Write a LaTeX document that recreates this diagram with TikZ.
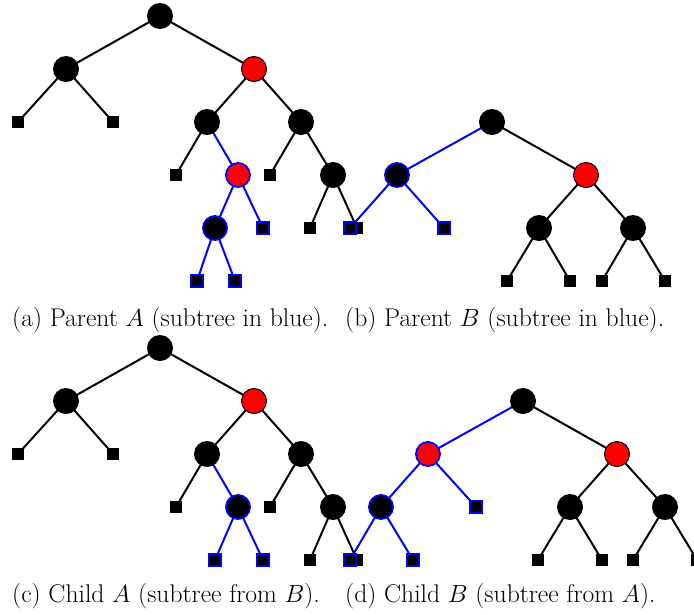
\documentclass[tikz,border=0pt]{standalone}
\pgfdeclarelayer{bg}
\pgfsetlayers{bg,main}
\begin{document}
\begin{tikzpicture}[x=1pt,y=-1pt,
  bn/.style={circle,fill=black,minimum size=26pt,inner sep=0pt},
  rn/.style={circle,fill=red,draw=black,line width=1pt,minimum size=25pt,inner sep=0pt},
  bb/.style={draw=blue,line width=1.8pt,minimum size=24pt},
  lf/.style={rectangle,fill=black,minimum size=12.5pt,inner sep=0pt},
  blf/.style={rectangle,fill=black,draw=blue,line width=1.8pt,minimum size=11.5pt,inner sep=0pt},
  ed/.style={line width=2pt,black},
  bed/.style={line width=2pt,blue},
  captext/.style={anchor=base west,inner sep=0pt,font=\fontsize{25.6}{30}\selectfont}]
\useasboundingbox (0,0) rectangle (694,614);
% Tree A
\node[bn] (a0) at (160,16) {};
\node[bn] (a1) at (66,69) {};
\node[rn] (a2) at (254,69) {};
\node[lf] (a3) at (18,122) {};
\node[lf] (a4) at (113,122) {};
\node[bn] (a5) at (207,122) {};
\node[bn] (a6) at (301,122) {};
\node[lf] (a7) at (176,175) {};
\node[rn,bb] (a8) at (238,175) {};
\node[bn,bb] (a9) at (215,228) {};
\node[blf] (a10) at (263,228) {};
\node[blf] (a11) at (197,281) {};
\node[blf] (a12) at (235,281) {};
\node[lf] (a13) at (270,175) {};
\node[bn] (a14) at (333,175) {};
\node[lf] (a15) at (310,228) {};
\node[lf] (a16) at (357,228) {};
% Tree B
\node[bn] (b0) at (492,122) {};
\node[bn,bb] (b1) at (397,175) {};
\node[rn] (b2) at (586,175) {};
\node[blf] (b3) at (350,228) {};
\node[blf] (b4) at (444,228) {};
\node[bn] (b5) at (539,228) {};
\node[bn] (b6) at (633,228) {};
\node[lf] (b7) at (507,281) {};
\node[lf] (b8) at (570,281) {};
\node[lf] (b9) at (602,281) {};
\node[lf] (b10) at (665,281) {};
% Tree C
\node[bn] (c0) at (160,348) {};
\node[bn] (c1) at (66,401) {};
\node[rn] (c2) at (254,401) {};
\node[lf] (c3) at (18,454) {};
\node[lf] (c4) at (113,454) {};
\node[bn] (c5) at (207,454) {};
\node[bn] (c6) at (301,454) {};
\node[lf] (c7) at (176,507) {};
\node[bn,bb] (c8) at (238,507) {};
\node[blf] (c9) at (215,560) {};
\node[blf] (c10) at (263,560) {};
\node[lf] (c13) at (270,507) {};
\node[bn] (c14) at (333,507) {};
\node[lf] (c15) at (310,560) {};
\node[lf] (c16) at (357,560) {};
% Tree D
\node[bn] (d0) at (523,401) {};
\node[rn,bb] (d1) at (428,454) {};
\node[rn] (d2) at (617,454) {};
\node[bn,bb] (d3) at (381,507) {};
\node[blf] (d4) at (476,507) {};
\node[blf] (d5) at (350,560) {};
\node[blf] (d6) at (413,560) {};
\node[bn] (d7) at (570,507) {};
\node[bn] (d8) at (665,507) {};
\node[lf] (d9) at (538,560) {};
\node[lf] (d10) at (602,560) {};
\node[lf] (d11) at (633,560) {};
\node[lf] (d12) at (697,560) {};
\begin{pgfonlayer}{bg}
\foreach \p/\q in {a0/a1,a0/a2,a1/a3,a1/a4,a2/a5,a2/a6,a5/a7,a6/a13,a6/a14,a14/a15,a14/a16,
  b0/b2,b2/b5,b2/b6,b5/b7,b5/b8,b6/b9,b6/b10,
  c0/c1,c0/c2,c1/c3,c1/c4,c2/c5,c2/c6,c5/c7,c6/c13,c6/c14,c14/c15,c14/c16,
  d0/d2,d2/d7,d2/d8,d7/d9,d7/d10,d8/d11,d8/d12}
  \draw[ed] (\p.center) -- (\q.center);
\foreach \p/\q in {a5/a8,a8/a9,a8/a10,a9/a11,a9/a12,
  b0/b1,b1/b3,b1/b4,
  c5/c8,c8/c9,c8/c10,
  d0/d1,d1/d3,d1/d4,d3/d5,d3/d6}
  \draw[bed] (\p.center) -- (\q.center);
\end{pgfonlayer}
% Captions
\node[captext] (capa) at (12,326) {(a) Parent $A$ (subtree in blue).};
\node[captext] (capb) at (345,326) {(b) Parent $B$ (subtree in blue).};
\node[captext] (capc) at (12,602) {(c) Child $A$ (subtree from $B$).};
\node[captext] (capd) at (345,602) {(d) Child $B$ (subtree from $A$).};
\end{tikzpicture}
\end{document}
